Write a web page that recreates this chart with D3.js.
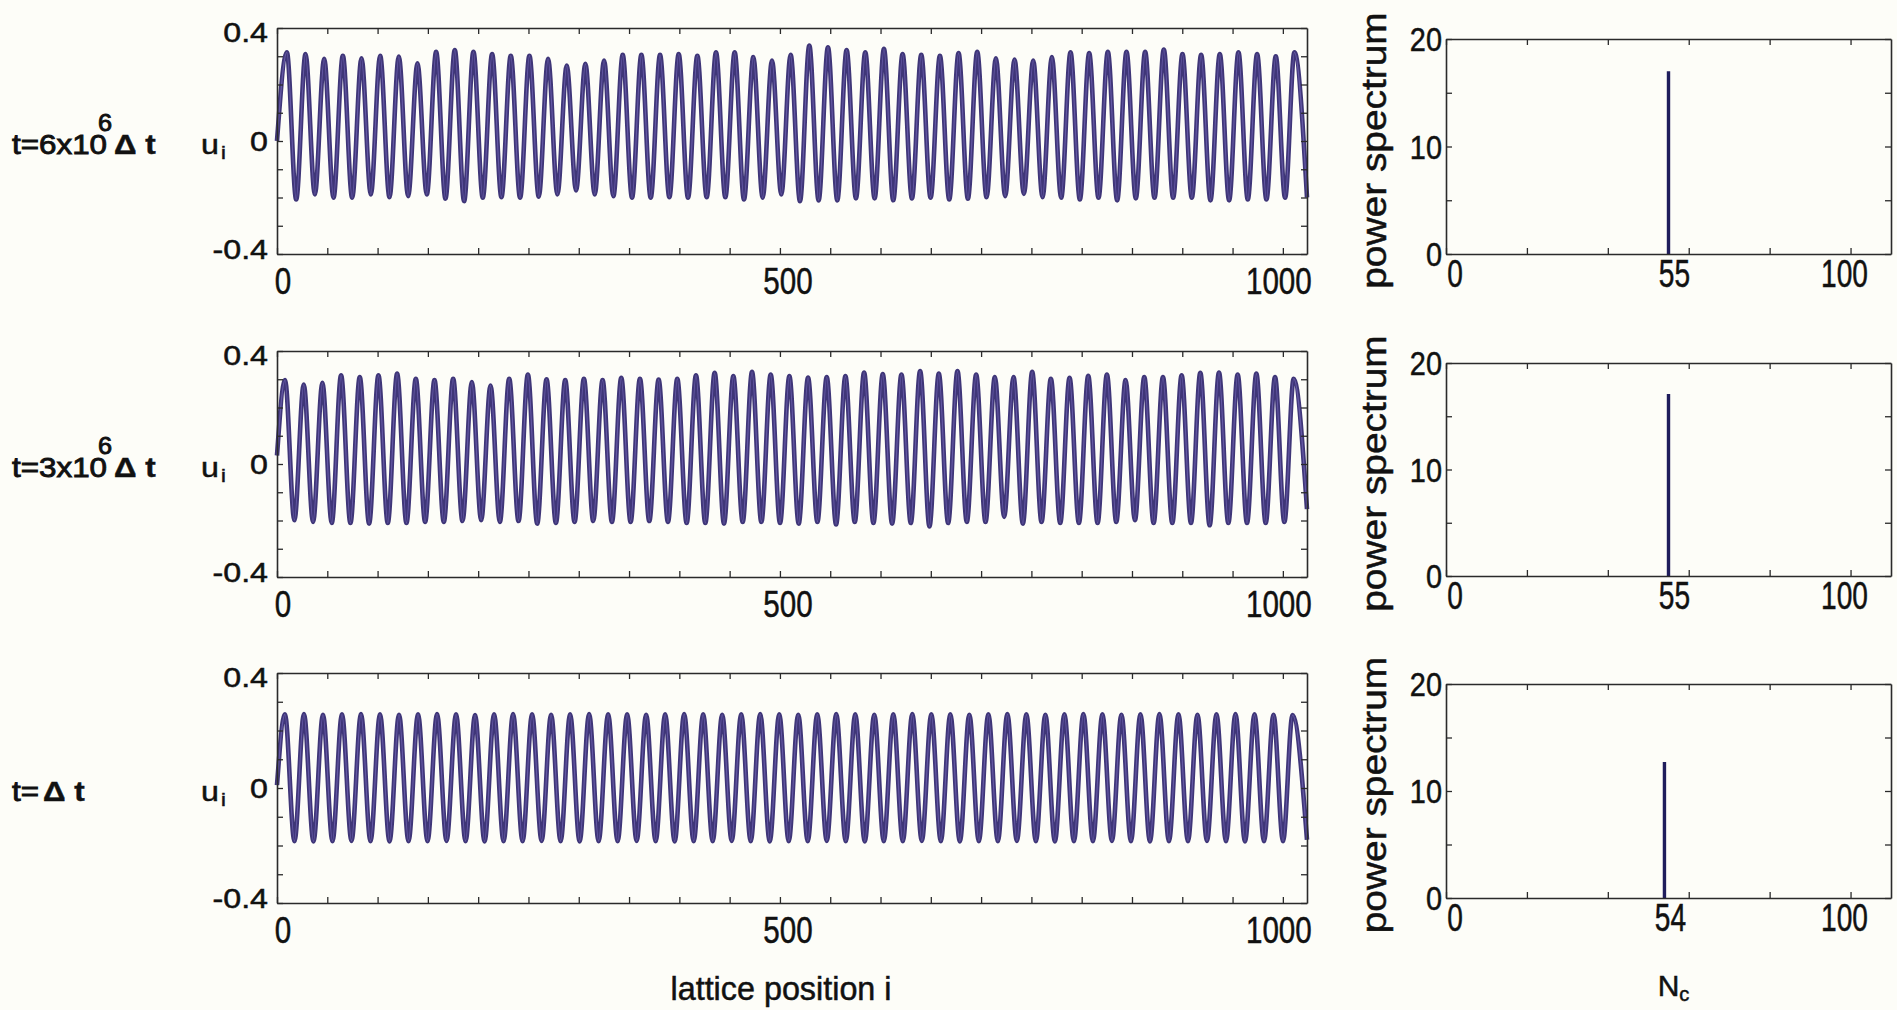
<!DOCTYPE html>
<html>
<head>
<meta charset="utf-8">
<script src="https://cdn.jsdelivr.net/npm/d3@7"></script>
<style>
  body { margin: 0; background: #fdfdf8; }
  svg { display: block; }
  text { font-family: "Liberation Sans", Arial, sans-serif; fill: #111; stroke: #111; stroke-width: 0.5px; }
  text.tlab { stroke-width: 0.9px; }
</style>
</head>
<body>
<div id="chart"></div>
<script>
// ---- data ----
const latticeSize = 1024;
const timeCoefficients = ["6", "3", null];          // t = c x 10^6 Δt, last row t = Δt
const modeNumbers = [55, 55, 54];                     // N_c of the spectral peak
const spectrumPeaks = [17.0, 17.1, 12.7];             // power spectrum height at N_c
const firstPeakSite = [9.8, 8.0, 7.9];                // lattice site of first maximum
const peakSpacing = [18.55, 18.57, 18.9];             // sites between maxima
const startValues = [0.0, 0.03, 0.01];
const endValues = [-0.20, -0.16, -0.18];

const peaks6e6 = [0.314, 0.308, 0.291, 0.302, 0.293, 0.302, 0.299, 0.275, 0.316, 0.322,
  0.316, 0.308, 0.302, 0.302, 0.291, 0.267, 0.273, 0.285, 0.305, 0.305,
  0.305, 0.308, 0.302, 0.314, 0.314, 0.297, 0.285, 0.305, 0.338, 0.332,
  0.322, 0.314, 0.326, 0.308, 0.305, 0.302, 0.311, 0.316, 0.293, 0.288,
  0.285, 0.297, 0.314, 0.311, 0.316, 0.316, 0.316, 0.324, 0.308, 0.305,
  0.308, 0.314, 0.308, 0.300, 0.314];
const troughs6e6 = [-0.207, -0.189, -0.201, -0.201, -0.189, -0.199, -0.195, -0.189, -0.204, -0.213,
  -0.201, -0.199, -0.201, -0.197, -0.189, -0.175, -0.189, -0.195, -0.201, -0.201,
  -0.199, -0.201, -0.199, -0.199, -0.207, -0.201, -0.189, -0.213, -0.210, -0.210,
  -0.203, -0.203, -0.210, -0.203, -0.201, -0.207, -0.204, -0.199, -0.195, -0.187,
  -0.199, -0.201, -0.207, -0.201, -0.210, -0.203, -0.201, -0.201, -0.201, -0.210,
  -0.210, -0.207, -0.207, -0.201];

const peaks3e6 = [0.297, 0.281, 0.287, 0.314, 0.308, 0.314, 0.320, 0.302, 0.297, 0.302,
  0.290, 0.278, 0.302, 0.317, 0.300, 0.297, 0.302, 0.297, 0.305, 0.302,
  0.299, 0.302, 0.314, 0.323, 0.311, 0.326, 0.317, 0.311, 0.306, 0.308,
  0.311, 0.324, 0.318, 0.317, 0.329, 0.320, 0.329, 0.317, 0.308, 0.308,
  0.326, 0.302, 0.305, 0.312, 0.317, 0.297, 0.308, 0.308, 0.314, 0.323,
  0.324, 0.317, 0.320, 0.308, 0.302];
const troughs3e6 = [-0.199, -0.205, -0.209, -0.209, -0.211, -0.209, -0.209, -0.205, -0.205, -0.202,
  -0.199, -0.205, -0.202, -0.211, -0.209, -0.205, -0.202, -0.205, -0.205, -0.202,
  -0.205, -0.209, -0.209, -0.211, -0.205, -0.205, -0.209, -0.211, -0.205, -0.214,
  -0.205, -0.209, -0.211, -0.209, -0.221, -0.209, -0.205, -0.205, -0.187, -0.211,
  -0.205, -0.209, -0.209, -0.209, -0.205, -0.199, -0.209, -0.209, -0.209, -0.217,
  -0.209, -0.209, -0.209, -0.205];

const peaks1 = [0.256, 0.257, 0.255, 0.256, 0.257, 0.256, 0.255, 0.256, 0.257, 0.256,
  0.254, 0.256, 0.257, 0.256, 0.255, 0.256, 0.257, 0.256, 0.256, 0.255,
  0.256, 0.257, 0.256, 0.255, 0.256, 0.257, 0.256, 0.255, 0.256, 0.257,
  0.256, 0.255, 0.256, 0.257, 0.256, 0.256, 0.255, 0.256, 0.257, 0.256,
  0.255, 0.256, 0.257, 0.256, 0.255, 0.256, 0.257, 0.256, 0.255, 0.256,
  0.257, 0.256, 0.255, 0.254];
const troughs1 = [-0.185, -0.186, -0.185, -0.184, -0.185, -0.186, -0.185, -0.185, -0.184, -0.185,
  -0.186, -0.185, -0.185, -0.184, -0.185, -0.186, -0.185, -0.185, -0.184, -0.185,
  -0.186, -0.185, -0.185, -0.184, -0.185, -0.186, -0.185, -0.185, -0.184, -0.185,
  -0.186, -0.185, -0.185, -0.184, -0.185, -0.186, -0.185, -0.185, -0.184, -0.185,
  -0.186, -0.185, -0.185, -0.184, -0.185, -0.186, -0.185, -0.185, -0.184, -0.185,
  -0.186, -0.185, -0.185];

const peakSeries = [peaks6e6, peaks3e6, peaks1];
const troughSeries = [troughs6e6, troughs3e6, troughs1];

const uTicks = [-0.4, -0.3, -0.2, -0.1, 0, 0.1, 0.2, 0.3, 0.4];
const uLabels = [-0.4, 0, 0.4];
const siteTicks = d3.range(0, 1001, 50);
const siteLabels = [0, 500, 1000];
const psTicks = [0, 5, 10, 15, 20];
const psLabels = [0, 10, 20];
const modeTicks = [0, 20, 40, 60, 80, 100];

// ---- layout ----
const W = 1897, H = 1010;
const leftX = [277, 1307], rightX = [1446, 1891];
const rows = [
  { top: 28, bottom: 254, rTop: 39, rBottom: 254 },
  { top: 351, bottom: 577, rTop: 363, rBottom: 576 },
  { top: 673, bottom: 903, rTop: 684, rBottom: 898 }
];
const axisColor = "#2a2a2a";

const svg = d3.select("#chart").append("svg")
  .attr("width", W).attr("height", H);
svg.append("rect").attr("width", W).attr("height", H).attr("fill", "#fdfdf8");

const x = d3.scaleLinear().domain([0, latticeSize]).range(leftX);
const xr = d3.scaleLinear().domain([0, 110]).range(rightX);

function styleAxis(g) {
  g.select(".domain").attr("stroke", axisColor).attr("stroke-width", 1.6);
  g.selectAll(".tick line").attr("stroke", axisColor).attr("stroke-width", 1.3);
}

// builds the extrema sequence of a row
function waveProfile(r) {
  const pts = [{ i: 0, u: startValues[r] }];
  const half = peakSpacing[r] / 2;
  peakSeries[r].forEach((p, k) => {
    const ip = firstPeakSite[r] + k * peakSpacing[r];
    pts.push({ i: ip, u: p });
    if (k < troughSeries[r].length) pts.push({ i: ip + half, u: troughSeries[r][k] });
  });
  pts.push({ i: latticeSize, u: endValues[r] });
  return pts;
}

// small per-label nudges seen in the figure
const siteNudge = { 0: 6, 500: 8, 1000: -4 };
const uNudge = d => (d > 0 ? 4 : d < 0 ? -5 : 0);

rows.forEach((row, r) => {
  const y = d3.scaleLinear().domain([-0.4, 0.4]).range([row.bottom, row.top]);
  const yr = d3.scaleLinear().domain([0, 20]).range([row.rBottom, row.rTop]);
  const g = svg.append("g");

  // --- left panel: displacement profile ---
  const line = d3.line().x(d => x(d.i)).y(d => y(d.u)).curve(d3.curveMonotoneX);
  const pts = waveProfile(r);
  g.append("path").datum(pts).attr("d", line)
    .attr("fill", "none").attr("stroke", "#3f3678").attr("stroke-width", 4.6);
  g.append("path").datum(pts).attr("d", line)
    .attr("fill", "none").attr("stroke", "#7264b4").attr("stroke-width", 1.2)
    .attr("stroke-opacity", 0.75);

  g.append("g").attr("transform", `translate(0,${row.bottom})`)
    .call(d3.axisBottom(x).tickValues(siteTicks).tickSizeInner(-6).tickSizeOuter(0).tickFormat(""))
    .call(styleAxis);
  g.append("g").attr("transform", `translate(0,${row.top})`)
    .call(d3.axisTop(x).tickValues(siteTicks).tickSizeInner(-6).tickSizeOuter(0).tickFormat(""))
    .call(styleAxis);
  g.append("g").attr("transform", `translate(${leftX[0]},0)`)
    .call(d3.axisLeft(y).tickValues(uTicks).tickSizeInner(-6).tickSizeOuter(0).tickFormat(""))
    .call(styleAxis);
  g.append("g").attr("transform", `translate(${leftX[1]},0)`)
    .call(d3.axisRight(y).tickValues(uTicks).tickSizeInner(-6).tickSizeOuter(0).tickFormat(""))
    .call(styleAxis);

  // tick labels
  g.selectAll(".ulab").data(uLabels).enter().append("text")
    .attr("transform", d => `translate(${leftX[0] - 9},${y(d) + 10 + uNudge(d)}) scale(1.15,1)`)
    .attr("text-anchor", "end").style("font-size", "28px")
    .text(d => d === 0 ? "0" : d.toFixed(1));
  g.selectAll(".slab").data(siteLabels).enter().append("text")
    .attr("transform", d => `translate(${x(d) + siteNudge[d]},${row.bottom + 40}) scale(0.8,1)`)
    .attr("text-anchor", "middle").style("font-size", "37px")
    .text(d => d);

  // u_i label
  const cy = (row.top + row.bottom) / 2;
  g.append("text").attr("transform", `translate(201,${cy + 13}) scale(1.15,1)`)
    .style("font-size", "28px").text("u");
  g.append("text").attr("transform", `translate(221,${cy + 18}) scale(1.15,1)`)
    .style("font-size", "19px").text("i");

  // time label
  const tb = cy + 13;
  if (timeCoefficients[r]) {
    g.append("text").attr("class", "tlab").attr("transform", `translate(12,${tb}) scale(1.12,1)`)
      .style("font-size", "28px")
      .text(`t=${timeCoefficients[r]}x10`);
    g.append("text").attr("class", "tlab").attr("transform", `translate(98,${tb - 23}) scale(1.1,1)`)
      .style("font-size", "23px").text("6");
    g.append("text").attr("transform", `translate(114,${tb}) scale(1.12,1)`)
      .style("font-size", "28px").style("font-weight", "bold").text("\u0394 t");
  } else {
    g.append("text").attr("class", "tlab").attr("transform", `translate(12,${tb}) scale(1.12,1)`)
      .style("font-size", "28px").text("t=");
    g.append("text").attr("transform", `translate(43,${tb}) scale(1.12,1)`)
      .style("font-size", "28px").style("font-weight", "bold").text("\u0394 t");
  }

  // --- right panel: power spectrum ---
  g.append("line")
    .attr("x1", xr(modeNumbers[r])).attr("x2", xr(modeNumbers[r]))
    .attr("y1", yr(0)).attr("y2", yr(spectrumPeaks[r]))
    .attr("stroke", "#1f1d5c").attr("stroke-width", 3.4);

  g.append("g").attr("transform", `translate(0,${row.rBottom})`)
    .call(d3.axisBottom(xr).tickValues(modeTicks).tickSizeInner(-6).tickSizeOuter(0).tickFormat(""))
    .call(styleAxis);
  g.append("g").attr("transform", `translate(0,${row.rTop})`)
    .call(d3.axisTop(xr).tickValues(modeTicks).tickSizeInner(-6).tickSizeOuter(0).tickFormat(""))
    .call(styleAxis);
  g.append("g").attr("transform", `translate(${rightX[0]},0)`)
    .call(d3.axisLeft(yr).tickValues(psTicks).tickSizeInner(-6).tickSizeOuter(0).tickFormat(""))
    .call(styleAxis);
  g.append("g").attr("transform", `translate(${rightX[1]},0)`)
    .call(d3.axisRight(yr).tickValues(psTicks).tickSizeInner(-6).tickSizeOuter(0).tickFormat(""))
    .call(styleAxis);

  g.selectAll(".plab").data(psLabels).enter().append("text")
    .attr("transform", d => `translate(${rightX[0] - 4},${yr(d) + 12}) scale(0.85,1)`)
    .attr("text-anchor", "end").style("font-size", "34px")
    .text(d => d);
  g.selectAll(".mlab").data([0, modeNumbers[r], 100]).enter().append("text")
    .attr("transform", d => `translate(${xr(d) + (d === 0 ? 9 : d === 100 ? -6 : 6)},${row.rBottom + 33}) scale(0.74,1)`)
    .attr("text-anchor", "middle").style("font-size", "38px")
    .text(d => d);

  g.append("text")
    .attr("transform", `translate(1386,${(row.rTop + row.rBottom) / 2 + 4}) rotate(-90) scale(1.08,1)`)
    .attr("text-anchor", "middle").style("font-size", "36px")
    .text("power spectrum");
});

// bottom axis titles
svg.append("text").attr("transform", "translate(781,1000) scale(0.98,1)")
  .attr("text-anchor", "middle").style("font-size", "33px").text("lattice position i");
const nc = svg.append("text").attr("transform", `translate(${xr(55) + 5},996)`)
  .attr("text-anchor", "middle").style("font-size", "30px");
nc.append("tspan").text("N");
nc.append("tspan").attr("dy", 5).style("font-size", "20px").text("c");
</script>
</body>
</html>
